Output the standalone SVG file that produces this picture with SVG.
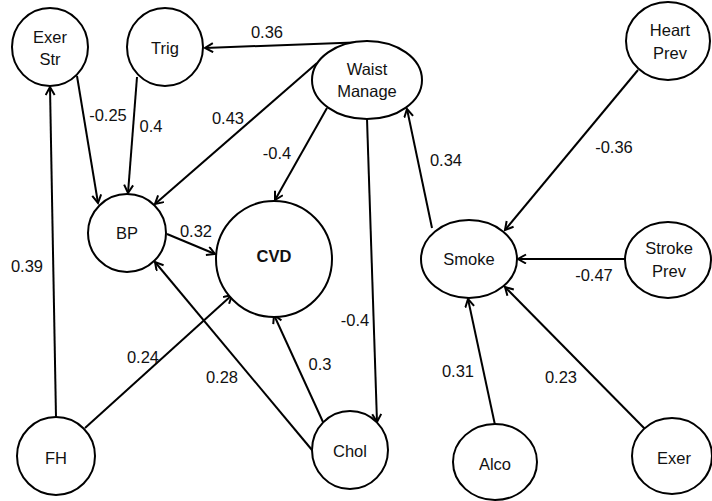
<svg xmlns="http://www.w3.org/2000/svg" width="712" height="501" viewBox="0 0 712 501">
<style>
.n{fill:#fff;stroke:#000;stroke-width:2}
.t{font-family:"Liberation Sans",Arial,sans-serif;font-size:16.5px;text-anchor:middle;fill:#111}
.b{font-weight:bold}
.e{stroke:#000;stroke-width:2;fill:none;marker-end:url(#a)}
</style>
<defs>
<marker id="a" markerWidth="12" markerHeight="12" refX="9" refY="5" orient="auto" markerUnits="userSpaceOnUse">
<path d="M1,0.5 L9,5 L1,9.5" fill="none" stroke="#000" stroke-width="2"/>
</marker>
</defs>
<rect width="712" height="501" fill="#fff"/>
<g id="connectors">
<path class="e" d="M367,42 L205,48"/>
<path class="e" d="M317,63 L155,204"/>
<path class="e" d="M327,108 L275,200"/>
<path class="e" d="M367,119 L377,422"/>
<path class="e" d="M432,228 L407,109"/>
<path class="e" d="M638,70 L505,230"/>
<path class="e" d="M625,259 L518,259"/>
<path class="e" d="M495,425 L468,299"/>
<path class="e" d="M645,429 L505,287"/>
<path class="e" d="M77,76 L98,203"/>
<path class="e" d="M137,77 L128,193"/>
<path class="e" d="M56,417 L50,87"/>
<path class="e" d="M85,428 L232,295"/>
<path class="e" d="M312,450 L155,262"/>
<path class="e" d="M323,422 L274,315"/>
<path class="e" d="M167,234 L215,254"/>
</g>
<g id="labels">
<text class="t" x="267" y="38">0.36</text>
<text class="t" x="108" y="121">-0.25</text>
<text class="t" x="151" y="132">0.4</text>
<text class="t" x="228" y="124">0.43</text>
<text class="t" x="277" y="159">-0.4</text>
<text class="t" x="446" y="166">0.34</text>
<text class="t" x="614" y="153">-0.36</text>
<text class="t" x="196" y="237">0.32</text>
<text class="t" x="594" y="281">-0.47</text>
<text class="t" x="27" y="272">0.39</text>
<text class="t" x="143" y="363">0.24</text>
<text class="t" x="222" y="383">0.28</text>
<text class="t" x="320" y="370">0.3</text>
<text class="t" x="355" y="326">-0.4</text>
<text class="t" x="458" y="377">0.31</text>
<text class="t" x="561" y="383">0.23</text>
</g>
<g id="ExerStr"><ellipse class="n" cx="50" cy="47" rx="38" ry="39"/><text class="t" x="50" y="43">Exer</text><text class="t" x="50" y="65">Str</text></g>
<g id="Trig"><ellipse class="n" cx="165" cy="47" rx="38" ry="39"/><text class="t" x="165" y="54">Trig</text></g>
<g id="Waist"><ellipse class="n" cx="367" cy="80" rx="55" ry="39"/><text class="t" x="367" y="75">Waist</text><text class="t" x="367" y="97">Manage</text></g>
<g id="HeartPrev"><ellipse class="n" cx="668" cy="41" rx="42" ry="39"/><text class="t" x="670" y="36">Heart</text><text class="t" x="670" y="59">Prev</text></g>
<g id="BP"><ellipse class="n" cx="127" cy="233" rx="39" ry="39"/><text class="t" x="127" y="239">BP</text></g>
<g id="CVD"><ellipse class="n" cx="274" cy="259" rx="58" ry="58"/><text class="t b" x="274" y="262">CVD</text></g>
<g id="Smoke"><ellipse class="n" cx="469" cy="259" rx="48" ry="39"/><text class="t" x="469" y="265">Smoke</text></g>
<g id="StrokePrev"><ellipse class="n" cx="668" cy="260" rx="43" ry="38"/><text class="t" x="669" y="254">Stroke</text><text class="t" x="669" y="277">Prev</text></g>
<g id="FH"><ellipse class="n" cx="56" cy="456" rx="39" ry="39"/><text class="t" x="56" y="464">FH</text></g>
<g id="Chol"><ellipse class="n" cx="350" cy="450" rx="38" ry="39"/><text class="t" x="350" y="457">Chol</text></g>
<g id="Alco"><ellipse class="n" cx="495" cy="462" rx="42" ry="38"/><text class="t" x="495" y="470">Alco</text></g>
<g id="Exer"><ellipse class="n" cx="672" cy="456" rx="40" ry="38"/><text class="t" x="674" y="464">Exer</text></g>
</svg>
